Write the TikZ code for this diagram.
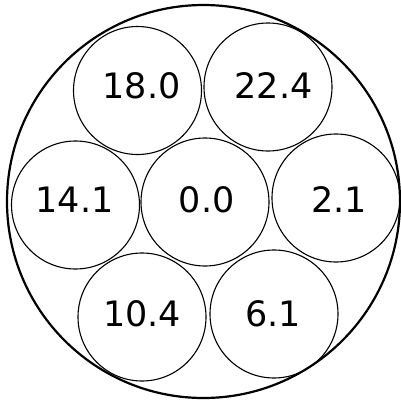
\documentclass[tikz,border=0pt]{standalone}
\usepackage{fontspec}
\setmainfont{DejaVu Sans}
\tikzset{
    disc/.style={draw, circle, line width=1.1pt, minimum size=128pt, inner sep=0pt},
    val/.style={font=\fontsize{35}{42}\selectfont, inner sep=0pt}
}

\begin{document}
\begin{tikzpicture}[x=1pt, y=-1pt]

    \useasboundingbox (0,0) rectangle (400,405);

    % Outer circle
    \node[draw, circle, line width=2.2pt, minimum size=393pt, inner sep=0pt] (outer) at (203.5,201.5) {};

    % Small circles
    \node[disc] (c18) at (137.5,90.5) {};
    \node[disc] (c22) at (268,87) {};
    \node[disc] (c14) at (75.5,205) {};
    \node[disc] (c00) at (205,202) {};
    \node[disc] (c02) at (336,198) {};
    \node[disc] (c10) at (142,317) {};
    \node[disc] (c06) at (274,314) {};

    % Values
    \node[val] (t18) at (141.7,85.5) {18.0};
    \node[val] (t22) at (273.5,85.5) {22.4};
    \node[val] (t14) at (74.5,199.5) {14.1};
    \node[val] (t00) at (206.7,199.5) {0.0};
    \node[val] (t02) at (339,199.5) {2.1};
    \node[val] (t10) at (142,314) {10.4};
    \node[val] (t06) at (273,314) {6.1};

\end{tikzpicture}
\end{document}
